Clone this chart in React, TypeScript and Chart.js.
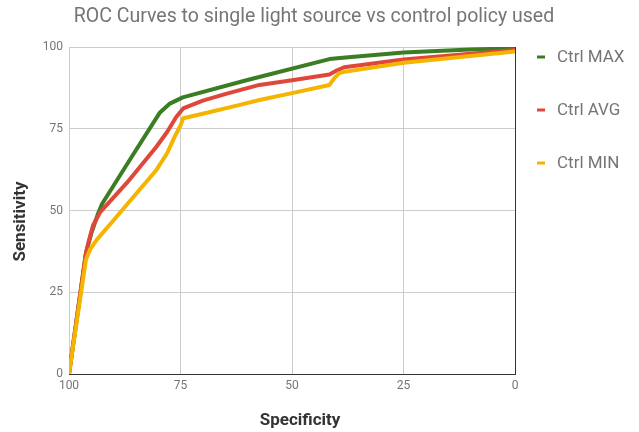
import React, { useEffect, useRef } from "react";
import { Chart, registerables } from "chart.js";

Chart.register(...registerables);

const seriesLabels = ["Ctrl MAX", "Ctrl AVG", "Ctrl MIN"];
const seriesColors = ["#3a7d23", "#e0473b", "#f4b400"];

const specMax = [100, 96.2, 95, 93.5, 92.6, 86, 79.6, 77.5, 74.5, 60, 41.6, 38, 25, 10, 0];
const sensMax = [0, 37, 43, 49, 52, 66.3, 80, 82.6, 84.6, 89.9, 96.3, 96.8, 98.3, 99.2, 99.6];

const specAvg = [100, 96.2, 95.5, 94.6, 93, 87, 80.4, 78, 76, 74.4, 70, 65, 61.7, 57.3, 50, 41.6, 40, 38.3, 25, 0];
const sensAvg = [0, 37, 41, 45.5, 49.5, 58.5, 69.5, 74, 78.5, 81.2, 83.6, 85.6, 86.8, 88.4, 89.8, 91.6, 92.8, 93.8, 96.2, 99.1];

const specMin = [100, 96.2, 95.3, 93.8, 90.2, 80.4, 78, 76.3, 75, 74.4, 70, 61.7, 57.3, 50, 41.6, 40.5, 39.4, 38.3, 25, 0];
const sensMin = [0, 35, 38, 41, 46.7, 62.4, 67.5, 72.6, 76, 78.2, 79.6, 82.3, 83.8, 85.9, 88.4, 90.5, 92, 92.4, 95.2, 98.6];

const xTicks = [100, 75, 50, 25, 0];
const yTicks = [0, 25, 50, 75, 100];

const xAxisTitle = "Specificity";
const yAxisTitle = "Sensitivity";

const zip = (xs: number[], ys: number[]) => xs.map((x, i) => ({ x, y: ys[i] }));

const sideLegend = {
  id: "sideLegend",
  afterDraw(chart: any) {
    const ctx = chart.ctx;
    const { left, right, top, bottom } = chart.chartArea;
    chart.data.datasets.forEach((ds: any, i: number) => {
      const y = top + 11 + i * 53;
      ctx.save();
      ctx.strokeStyle = ds.borderColor;
      ctx.lineWidth = 3;
      ctx.beginPath();
      ctx.moveTo(right + 22, y - 1);
      ctx.lineTo(right + 30, y - 1);
      ctx.stroke();
      ctx.fillStyle = "#757575";
      ctx.font = "17px Roboto";
      ctx.textBaseline = "middle";
      ctx.textAlign = "left";
      ctx.fillText(ds.label, right + 42, y);
      ctx.restore();
    });
    // axis titles
    ctx.save();
    ctx.fillStyle = "#333333";
    ctx.font = "bold 17px Roboto";
    ctx.textAlign = "center";
    ctx.textBaseline = "middle";
    ctx.fillText(xAxisTitle, (left + right) / 2 + 8, bottom + 47);
    ctx.translate(21, (top + bottom) / 2 + 11);
    ctx.rotate(-Math.PI / 2);
    ctx.fillText(yAxisTitle, 0, 0);
    ctx.restore();
  },
};

export default function App() {
  const canvasRef = useRef<HTMLCanvasElement | null>(null);

  useEffect(() => {
    document.body.style.margin = "0";
    const canvas = canvasRef.current;
    if (!canvas) return;
    const xs = [specMax, specAvg, specMin];
    const ys = [sensMax, sensAvg, sensMin];
    const chart = new Chart(canvas, {
      type: "line",
      data: {
        datasets: seriesLabels.map((label, i) => ({
          label,
          data: zip(xs[i], ys[i]),
          borderColor: seriesColors[i],
          backgroundColor: seriesColors[i],
          borderWidth: 4,
          pointRadius: 0,
          tension: 0,
          borderJoinStyle: "round" as const,
          borderCapStyle: "round" as const,
          fill: false,
          order: 3 - i,
          yAxisID: "y",
        })),
      },
      options: {
        animation: false,
        responsive: false,
        layout: { padding: { right: 11 } },
        plugins: {
          legend: { display: false },
          tooltip: { enabled: false },
          title: {
            display: true,
            text: "ROC Curves to single light source vs control policy used",
            color: "#757575",
            font: { family: "Roboto", size: 19.5, weight: "normal" },
            padding: { top: 5, bottom: 18.6 },
          },
        },
        scales: {
          x: {
            type: "linear",
            min: 0,
            max: 100,
            reverse: true,
            afterBuildTicks: (scale: any) => {
              scale.ticks = xTicks.map((v) => ({ value: v }));
            },
            afterFit: (scale: any) => {
              scale.height = 58;
            },
            ticks: {
              color: "#757575",
              font: { family: "Roboto", size: 12 },
              padding: 5,
              maxRotation: 0,
            },
            grid: {
              drawTicks: false,
              color: (c: any) => (c.tick && c.tick.value === 0 ? "#333333" : "#cccccc"),
              lineWidth: 1,
            },
            border: { display: true, color: "#333333", width: 1 },
          },
          y: {
            type: "linear",
            min: 0,
            max: 100,
            afterBuildTicks: (scale: any) => {
              scale.ticks = yTicks.map((v) => ({ value: v }));
            },
            afterFit: (scale: any) => {
              scale.width = 69;
            },
            ticks: {
              color: "#757575",
              font: { family: "Roboto", size: 12 },
              padding: 6,
            },
            grid: {
              drawTicks: false,
              color: (c: any) => (c.tick && c.tick.value === 0 ? "#333333" : "#cccccc"),
              lineWidth: 1,
            },
            border: { display: false },
          },
          legendSpace: {
            type: "linear",
            position: "right",
            display: true,
            min: 0,
            max: 100,
            afterFit: (scale: any) => {
              scale.width = 113;
            },
            ticks: { display: false },
            grid: { display: false, drawTicks: false },
            border: { display: false },
          },
        },
      },
      plugins: [sideLegend],
    });
    return () => chart.destroy();
  }, []);

  return (
    <div style={{ width: 639, height: 432 }}>
      <canvas ref={canvasRef} width={639} height={432} />
    </div>
  );
}
